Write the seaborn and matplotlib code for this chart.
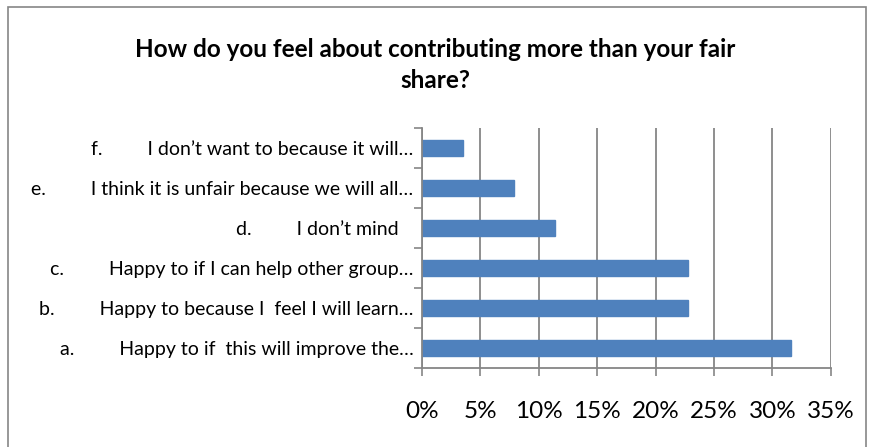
import matplotlib
matplotlib.use("Agg")
import matplotlib.pyplot as plt
import matplotlib.patches as mpatches
from matplotlib.ticker import FixedLocator, PercentFormatter
import seaborn as sns
import pandas as pd

# answer options, top to bottom as they appear on the chart
answers = [
    "f.         I don\u2019t want to because it will\u2026",
    "e.         I think it is unfair because we will all\u2026",
    "d.         I don\u2019t mind   ",
    "c.         Happy to if I can help other group\u2026",
    "b.         Happy to because I  feel I will learn\u2026",
    "a.         Happy to if  this will improve the\u2026",
]
share = [3.5, 7.9, 11.4, 22.8, 22.8, 31.6]
x_ticks = [0, 5, 10, 15, 20, 25, 30, 35]

df = pd.DataFrame({"answer": answers, "share": share})

sns.set_style("white")
plt.rcParams["font.family"] = ["Lato", "DejaVu Sans"]
plt.rcParams["text.color"] = "black"
plt.rcParams["xtick.labelcolor"] = "black"
plt.rcParams["ytick.labelcolor"] = "black"

grey = "#868686"
fig = plt.figure(figsize=(8.7, 4.47), dpi=100)
ax = fig.add_axes([0.485, 0.177, 0.47, 0.537])

sns.barplot(data=df, x="share", y="answer", order=answers, orient="h",
            color="#4F81BD", saturation=1, width=0.39, ax=ax,
            edgecolor="#4F81BD")

ax.set_xlim(0, 35)
ax.set_ylim(5.5, -0.5)
ax.xaxis.set_major_locator(FixedLocator(x_ticks))
ax.xaxis.set_major_formatter(PercentFormatter(decimals=0))
ax.grid(axis="x", color=grey, linewidth=1.3)
ax.set_axisbelow(True)

ax.set_xlabel("")
ax.set_ylabel("")
ax.tick_params(axis="x", direction="out", length=6, width=1.2, color=grey,
               pad=18, labelsize=17.5, bottom=True, labelcolor="black")
ax.tick_params(axis="y", which="major", length=0, pad=6, labelsize=14,
               labelcolor="black")
ax.yaxis.set_minor_locator(FixedLocator([i - 0.5 for i in range(7)]))
ax.tick_params(axis="y", which="minor", direction="out", length=6,
               width=1.2, color=grey, left=True)

for side in ["top", "right"]:
    ax.spines[side].set_visible(False)
for side in ["left", "bottom"]:
    ax.spines[side].set_color(grey)
    ax.spines[side].set_linewidth(1.3)

fig.text(0.5, 0.89, "How do you feel about contributing more than your fair",
         ha="center", va="center", fontsize=17.5, fontweight="bold",
         color="black")
fig.text(0.5, 0.82, "share?", ha="center", va="center",
         fontsize=17.5, fontweight="bold", color="black")

fig.patches.append(mpatches.Rectangle((0.009, -0.05), 0.986, 1.035,
                                      transform=fig.transFigure, fill=False,
                                      edgecolor=grey, linewidth=1.2))

fig.savefig("out.png", dpi=100)
